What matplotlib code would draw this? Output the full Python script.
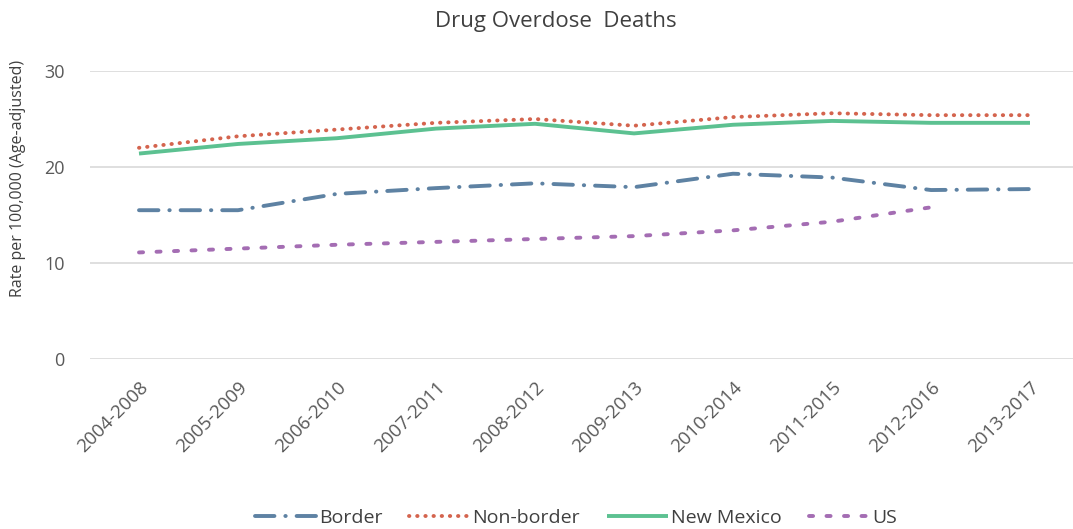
import numpy as np
import matplotlib
matplotlib.use("Agg")
import matplotlib.pyplot as plt

plt.rcParams['font.family'] = ['Open Sans', 'DejaVu Sans']

categories = ["2004-2008", "2005-2009", "2006-2010", "2007-2011", "2008-2012",
              "2009-2013", "2010-2014", "2011-2015", "2012-2016", "2013-2017"]
border = [15.5, 15.5, 17.2, 17.8, 18.3, 17.9, 19.3, 18.9, 17.6, 17.7]
non_border = [22.0, 23.2, 23.9, 24.6, 25.0, 24.3, 25.2, 25.6, 25.4, 25.4]
new_mexico = [21.4, 22.4, 23.0, 24.0, 24.5, 23.5, 24.4, 24.8, 24.6, 24.6]
us = [11.1, 11.5, 11.9, 12.2, 12.5, 12.8, 13.4, 14.3, 15.8]

fig = plt.figure(figsize=(10.73, 5.29), dpi=100)
ax = fig.add_axes([89.5 / 1073, 1 - 359 / 529, (1079.5 - 89.5) / 1073, (359 - 71) / 529])

c_border = "#5E82A3"
c_non = "#D4644E"
c_nm = "#5CC191"
c_us = "#A46DB3"
lw = 2.8

x = np.arange(len(categories))
ax.plot(x, border, color=c_border, lw=lw, dashes=(5, 2.8, 0.1, 2.8), dash_capstyle='round',
        label="Border")
ax.plot(x, non_border, color=c_non, lw=lw, linestyle=(0, (0.1, 2.0)), dash_capstyle='round',
        label="Non-border")
ax.plot(x, new_mexico, color=c_nm, lw=lw, solid_capstyle='butt', label="New Mexico")
ax.plot(x[:len(us)], us, color=c_us, lw=lw, dashes=(1.05, 3.45), dash_capstyle='round', label="US")

ax.set_xlim(-0.5, len(categories) - 0.5)
ax.set_ylim(0, 30)
ax.set_yticks([0, 10, 20, 30])
ax.set_xticks(x)
ax.set_xticklabels(categories, rotation=45, ha='right', rotation_mode='anchor',
                   fontsize=13.5, color="#595959")
ax.tick_params(axis='y', labelsize=13, labelcolor="#595959", length=0, pad=18)
ax.tick_params(axis='x', length=0, pad=14)
ax.grid(axis='y', color="#D9D9D9", lw=1.2)
ax.set_axisbelow(True)
for s in ax.spines.values():
    s.set_visible(False)

ax.set_ylabel("Rate per 100,000 (Age-adjusted)", fontsize=11.5, color="#404040")
ax.yaxis.set_label_coords((26 - 89.5) / 990, (359 - 178) / 288)
fig.text(556 / 1073, 1 - 21 / 529, "Drug Overdose  Deaths", ha='center', va='center',
         fontsize=16, color="#404040")

leg = fig.legend(loc='center', bbox_to_anchor=(576 / 1073, 1 - 518 / 529), ncol=4, frameon=False,
                 fontsize=14, handlelength=3.1, handletextpad=0.15, columnspacing=1.4)
for t in leg.get_texts():
    t.set_color("#404040")

fig.savefig("out.png", dpi=100)
